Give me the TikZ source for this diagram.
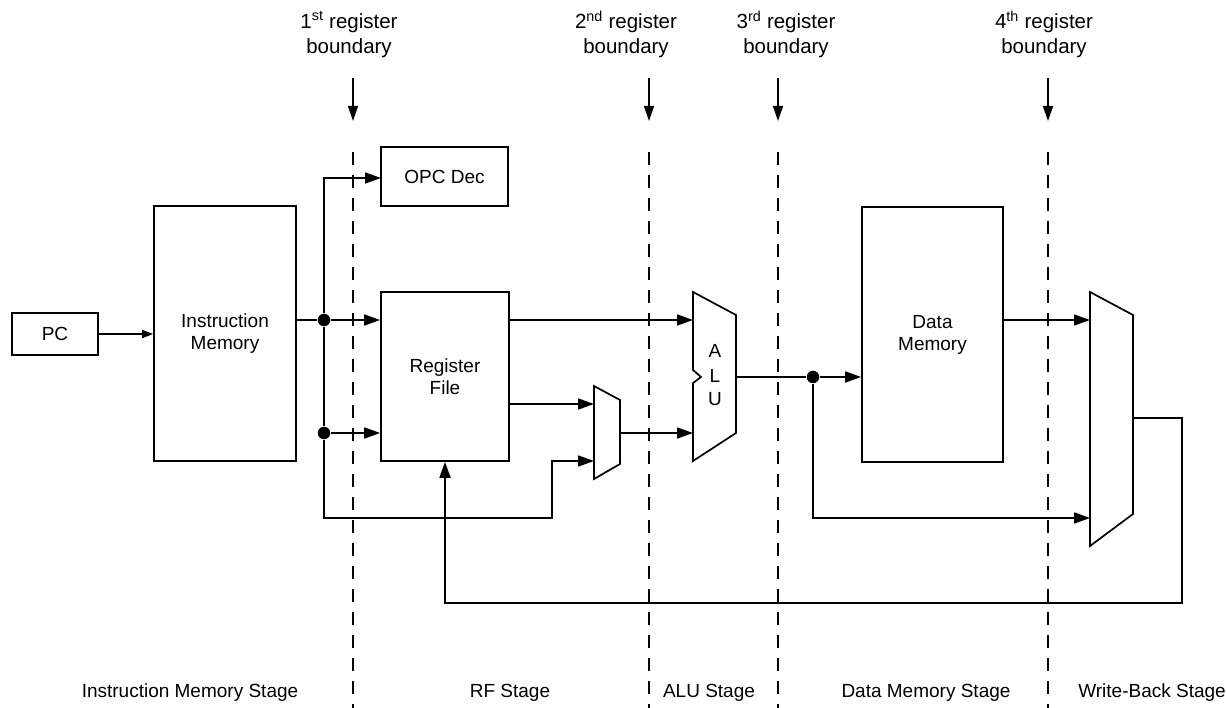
\documentclass[tikz,border=0pt]{standalone}
\usepackage{fontspec}
\setmainfont{Liberation Sans}
\usetikzlibrary{arrows.meta}
\begin{document}
\begin{tikzpicture}[x=1pt,y=-1pt, line width=1.7pt,
 blk/.style={draw, rectangle, inner sep=0pt, align=center, font=\fontsize{19}{22}\selectfont},
 txt/.style={inner sep=0pt, align=center, font=\fontsize{19}{22}\selectfont},
 toplab/.style={inner sep=0pt, align=center, font=\fontsize{20.5}{25}\selectfont},
 arr/.style={-{Triangle[length=16pt,width=11pt]}},
 sarr/.style={-{Triangle[length=11pt,width=8pt]}},
 barr/.style={-{Triangle[length=15pt,width=10pt]}},
 bound/.style={dash pattern=on 13pt off 10pt},
 dot/.style={circle, fill, inner sep=0pt, minimum size=12.5pt}]

\useasboundingbox (0,0) rectangle (1226,708);

% blocks
\node[blk, minimum width=86pt, minimum height=42pt] (pc) at (55,334) {PC};
\node[blk, minimum width=142pt, minimum height=255pt] (im) at (225,333.5) {Instruction\\Memory};
\node[blk, minimum width=127pt, minimum height=59pt] (opc) at (444.5,176.5) {OPC Dec};
\node[blk, minimum width=128pt, minimum height=169pt] (rf) at (445,376.5) {Register\\File};
\node[blk, minimum width=141pt, minimum height=255pt] (dm) at (932.5,334.5) {Data\\Memory};

% junction dots
\node[dot] (d1) at (324,320) {};
\node[dot] (d2) at (324,433) {};
\node[dot] (d3) at (813,377) {};

% ALU
\draw (693,292) -- (736,315) -- (736,433) -- (693,461) -- (693,383) -- (701,377) -- (693,370) -- cycle;
\coordinate (aluin1) at (693,320);
\coordinate (aluin2) at (693,433);
\coordinate (aluout) at (736,377);
\node[txt] (aluA) at (715,351) {A};
\node[txt] (aluL) at (715,376) {L};
\node[txt] (aluU) at (715,399) {U};

% small mux
\draw (594,386) -- (620,400) -- (620,464) -- (594,479) -- cycle;
\coordinate (m1in1) at (594,404);
\coordinate (m1in2) at (594,461);
\coordinate (m1out) at (620,433);

% write-back mux
\draw (1090,292) -- (1133,315) -- (1133,514) -- (1090,546) -- cycle;
\coordinate (wbin1) at (1090,320);
\coordinate (wbin2) at (1090,518);
\coordinate (wbout) at (1133,418);

% helper coordinates
\coordinate (opcin) at (381,178);
\coordinate (bypassA) at (552,518);
\coordinate (fbA) at (1182,603);

% connectors
\draw[sarr] (pc.east) -- (pc.east -| im.west);
\draw (im.east |- d1) -- (d1);
\draw[arr] (d1) -- (d1 -| rf.west);
\draw[arr] (d1) |- (opcin);
\draw (d1) -- (d2);
\draw[arr] (d2) -- (d2 -| rf.west);
\draw[arr] (d2) |- (bypassA) |- (m1in2);
\draw[arr] (rf.east |- aluin1) -- (aluin1);
\draw[arr] (rf.east |- m1in1) -- (m1in1);
\draw[arr] (m1out) -- (aluin2);
\draw (aluout) -- (d3);
\draw[arr] (d3) -- (dm.west |- d3);
\draw[arr] (dm.east |- wbin1) -- (wbin1);
\draw[arr] (d3) |- (wbin2);
\draw[arr] (wbout) -| (fbA) -| (rf.south);

% register boundaries
\foreach \i/\x in {1/353,2/649,3/778,4/1048}{
  \coordinate (bt\i) at (\x,78);
  \coordinate (bb\i) at (\x,121);
  \coordinate (ds\i) at (\x,152);
  \coordinate (de\i) at (\x,708);
  \draw[barr] (bt\i) -- (bb\i);
  \draw[bound] (ds\i) -- (de\i);
}
\node[toplab] (lab1) at (349,34.5) {1\textsuperscript{st} register\\boundary};
\node[toplab] (lab2) at (626,34.5) {2\textsuperscript{nd} register\\boundary};
\node[toplab] (lab3) at (786,34.5) {3\textsuperscript{rd} register\\boundary};
\node[toplab] (lab4) at (1044,34.5) {4\textsuperscript{th} register\\boundary};

% stage labels
\node[txt] (s1) at (190,693) {Instruction Memory Stage};
\node[txt] (s2) at (510,693) {RF Stage};
\node[txt] (s3) at (709,693) {ALU Stage};
\node[txt] (s4) at (926,693) {Data Memory Stage};
\node[txt] (s5) at (1152,693) {Write-Back Stage};
\end{tikzpicture}
\end{document}
